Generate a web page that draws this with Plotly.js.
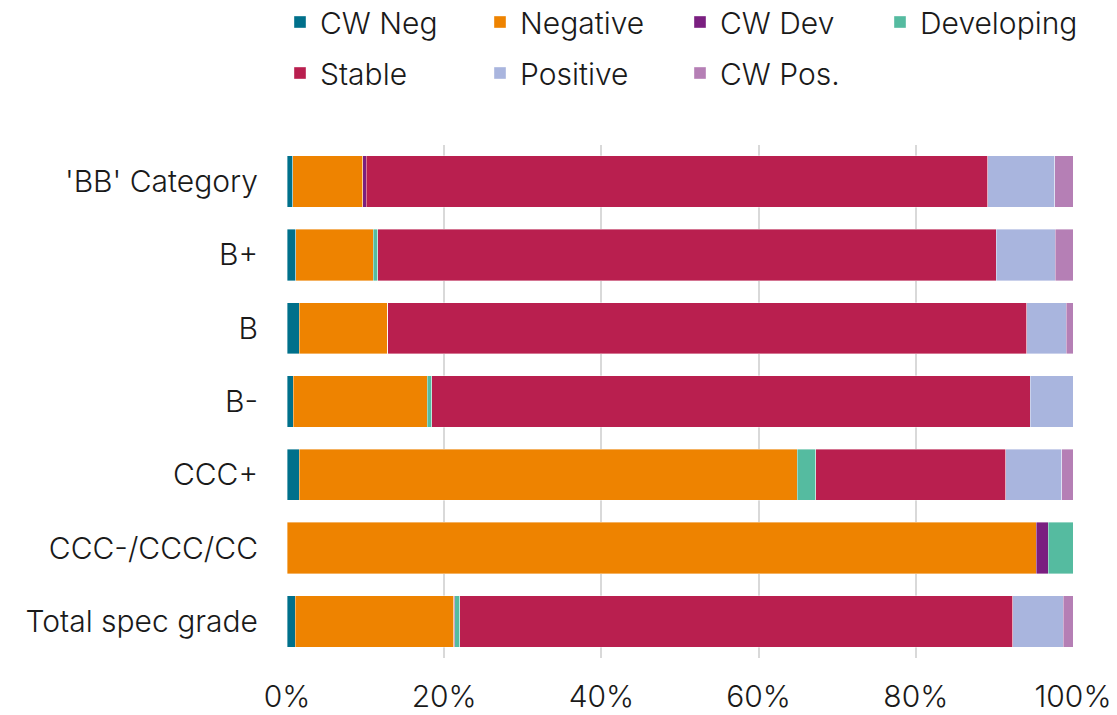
<!DOCTYPE html>
<html>
<head>
<meta charset="utf-8">
<script src="https://cdn.plot.ly/plotly-3.0.1.min.js"></script>
<style>
html,body{margin:0;padding:0;background:#fff;}
#chart{width:1117px;height:715px;}
</style>
</head>
<body>
<div id="chart"></div>
<script>
const categories = ["'BB' Category", "B+", "B", "B-", "CCC+", "CCC-/CCC/CC", "Total spec grade"];
const seriesNames = ["CW Neg", "Negative", "CW Dev", "Developing", "Stable", "Positive", "CW Pos."];
const cwNeg      = [0.72, 1.14, 1.53, 0.80, 1.53, 0.00, 1.02];
const negative   = [8.90, 9.83, 11.28, 17.04, 63.40, 95.30, 20.20];
const cwDev      = [0.46, 0.00, 0.00, 0.00, 0.00, 1.57, 0.13];
const developing = [0.00, 0.55, 0.00, 0.55, 2.33, 3.13, 0.64];
const stable     = [79.10, 78.70, 81.30, 76.14, 24.20, 0.00, 70.36];
const positive   = [8.48, 7.55, 5.05, 5.47, 7.08, 0.00, 6.44];
const cwPos      = [2.34, 2.23, 0.84, 0.00, 1.46, 0.00, 1.21];
const xTicks = [0, 20, 40, 60, 80, 100];
const xTickLabels = ["0%", "20%", "40%", "60%", "80%", "100%"];

const seriesValues = [cwNeg, negative, cwDev, developing, stable, positive, cwPos];
const colors = ["#00708B", "#EE8300", "#7A1F80", "#55BBA0", "#B91F4F", "#A9B5DE", "#B57FB5"];
const legendOf = ["legend", "legend", "legend", "legend", "legend2", "legend2", "legend2"];

const FONT = "Inter, Roboto, 'Liberation Sans', sans-serif";
const FW = 300;

const traces = seriesNames.map((name, i) => ({
  type: 'bar',
  orientation: 'h',
  name: name,
  y: categories,
  x: seriesValues[i],
  marker: {color: colors[i], line: {color: 'rgba(255,255,255,0.55)', width: 0.7}},
  legend: legendOf[i],
  hoverinfo: 'name+x'
}));

const plotTop = 145, plotBottom = 658, plotH = plotBottom - plotTop;
const plotLeft = 287, plotRight = 1073, plotW = plotRight - plotLeft;
const legX = (280 - plotLeft) / plotW;

const tf = {family: FONT, size: 30, color: '#1a1a1a', weight: FW};

const layout = {
  width: 1117, height: 715,
  margin: {l: plotLeft, r: 1117 - plotRight, t: plotTop, b: 715 - plotBottom, pad: 0, autoexpand: false},
  paper_bgcolor: '#ffffff',
  plot_bgcolor: '#ffffff',
  barmode: 'stack',
  bargap: 0.30,
  font: tf,
  xaxis: {
    range: [0, 100],
    tickvals: xTicks,
    ticktext: xTickLabels,
    showgrid: true,
    gridcolor: '#d9d9d9',
    gridwidth: 2,
    zeroline: false,
    showline: false,
    ticks: '',
    ticklabelstandoff: 18,
    tickfont: tf,
    fixedrange: true,
    automargin: false
  },
  yaxis: {
    autorange: 'reversed',
    type: 'category',
    showgrid: false,
    zeroline: false,
    showline: false,
    ticks: '',
    ticklabelstandoff: 28,
    tickfont: tf,
    fixedrange: true,
    automargin: false
  },
  legend: {
    orientation: 'h',
    x: legX, xanchor: 'left',
    y: (plotBottom - 22) / plotH, yanchor: 'middle',
    entrywidth: 155, entrywidthmode: 'pixels',
    bgcolor: 'rgba(0,0,0,0)',
    font: tf,
    traceorder: 'normal'
  },
  legend2: {
    orientation: 'h',
    x: legX, xanchor: 'left',
    y: (plotBottom - 73) / plotH, yanchor: 'middle',
    entrywidth: 155, entrywidthmode: 'pixels',
    bgcolor: 'rgba(0,0,0,0)',
    font: tf,
    traceorder: 'normal'
  },
  showlegend: true
};

Plotly.newPlot('chart', traces, layout, {displayModeBar: false, staticPlot: true});
</script>
</body>
</html>
